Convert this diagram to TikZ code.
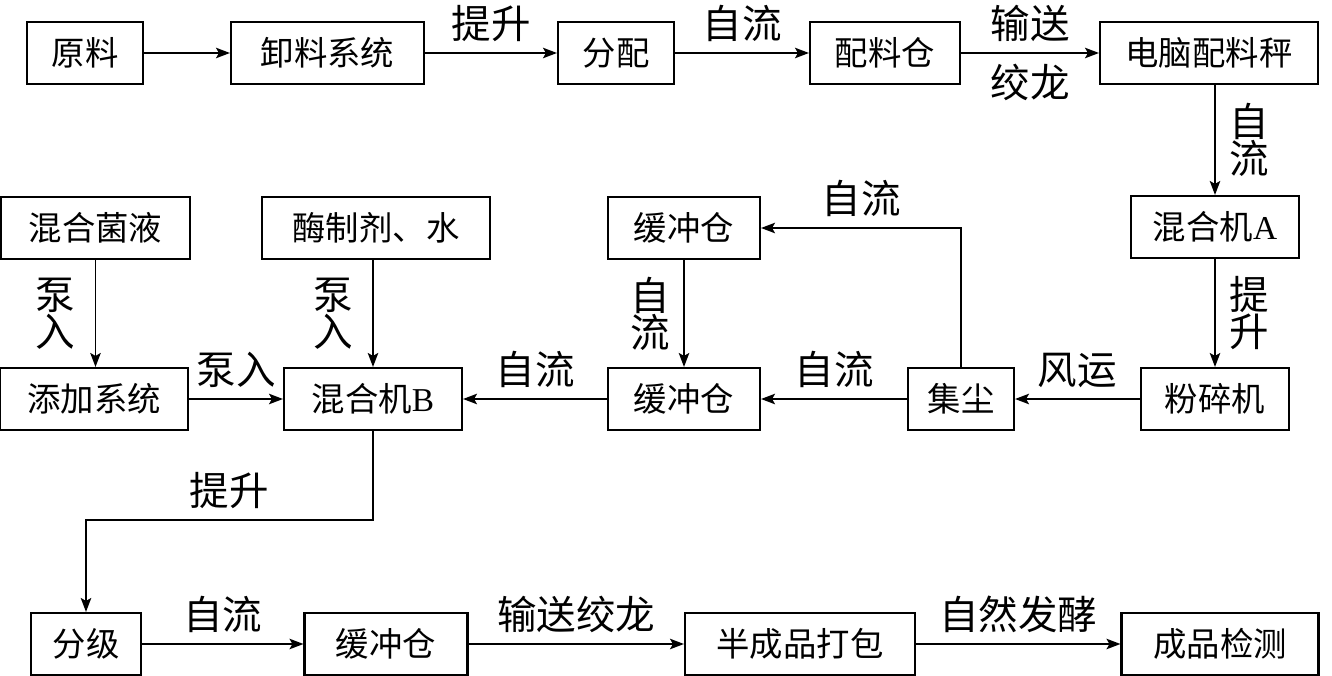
\documentclass[tikz,border=0pt]{standalone}
\usepackage{fontspec}
\setmainfont{Liberation Serif}
\newfontfamily\cjk{Noto Sans CJK SC}
\usetikzlibrary{arrows.meta, positioning}

\begin{document}
\begin{tikzpicture}[x=0.02cm, y=-0.02cm,
    stage/.style={rectangle, draw, line width=1.2pt, minimum height=1.24cm,
                  inner sep=0pt, font=\cjk\fontsize{19}{21}\selectfont},
    flow/.style={-{Stealth[length=2.8mm, width=2.1mm, inset=0.6mm]}, line width=1pt},
    tag/.style={font=\cjk\fontsize{22.5}{21}\selectfont, inner sep=0pt, align=center}]
    \useasboundingbox (0,0) rectangle (1332,676);

    % Top row
    \node[stage, minimum width=2.32cm] (raw) at (85,53) {原料};
    \node[stage, minimum width=3.86cm] (unload) at (327.5,53) {卸料系统};
    \node[stage, minimum width=2.32cm] (dist) at (616,53) {分配};
    \node[stage, minimum width=3cm] (batch) at (885,53) {配料仓};
    \node[stage, minimum width=4.36cm] (scale) at (1209,53) {电脑配料秤};

    % Feed boxes
    \node[stage, minimum width=3.78cm] (culture) at (95.5,228) {混合菌液};
    \node[stage, minimum width=4.56cm] (enzyme) at (376,228) {酶制剂、水};
    \node[stage, minimum width=3.04cm] (buf1) at (684,228) {缓冲仓};
    \node[stage, minimum width=3.36cm] (mixA) at (1215,227) {混合机{\rmfamily A}};

    % Mixing row
    \node[stage, minimum width=3.76cm] (add) at (94,399) {添加系统};
    \node[stage, minimum width=3.56cm] (mixB) at (373,399) {混合机{\rmfamily B}};
    \node[stage, minimum width=3.04cm] (buf2) at (684,399) {缓冲仓};
    \node[stage, minimum width=2.12cm] (dust) at (961,399) {集尘};
    \node[stage, minimum width=2.96cm] (mill) at (1215,399) {粉碎机};

    % Bottom row
    \node[stage, minimum width=2.2cm] (grade) at (86,644) {分级};
    \node[stage, minimum width=3.26cm] (buf3) at (386,644) {缓冲仓};
    \node[stage, minimum width=4.6cm] (pack) at (800,644) {半成品打包};
    \node[stage, minimum width=3.94cm] (check) at (1220,644) {成品检测};

    % Arrows, top row
    \draw[flow] (raw) -- (unload);
    \draw[flow] (unload) -- node[tag, midway, above=6pt] {提升} (dist);
    \draw[flow] (dist) -- node[tag, midway, above=6pt] {自流} (batch);
    \draw[flow] (batch) -- node[tag, midway, above=6pt] {输送}
                           node[tag, midway, below=6pt] {绞龙} (scale);
    \draw[flow] (scale.south -| mixA.north) -- node[tag, midway, right=7.5pt] {自\\流} (mixA.north);

    % Arrows, grinding and dust
    \draw[flow] (mixA) -- node[tag, midway, right=7.5pt] {提\\升} (mill);
    \draw[flow] (mill) -- node[tag, midway, above=6pt] {风运} (dust);
    \draw[flow] (dust) -- node[tag, midway, above=6pt] {自流} (buf2);
    \draw[flow] (dust.north) |- node[tag, pos=0.75, above=6pt] {自流} (buf1.east);
    \draw[flow] (buf1) -- node[tag, midway, left=7.5pt] {自\\流} (buf2);
    \draw[flow] (buf2) -- node[tag, midway, above=6pt] {自流} (mixB);

    % Arrows, feeds
    \draw[flow] (culture.south) -- node[tag, midway, left=11pt] {泵\\入} (culture.south |- add.north);
    \draw[flow] (enzyme.south -| mixB.north) -- node[tag, midway, left=11pt] {泵\\入} (mixB.north);
    \draw[flow] (add) -- node[tag, midway, above=6pt] {泵入} (mixB);

    % Arrows, bottom row
    \coordinate (liftturn) at (86,520);
    \draw[flow] (mixB.south) |- node[tag, pos=0.75, above=6pt] {提升} (liftturn) -- (grade.north);
    \draw[flow] (grade) -- node[tag, midway, above=6pt] {自流} (buf3);
    \draw[flow] (buf3) -- node[tag, midway, above=6pt] {输送绞龙} (pack);
    \draw[flow] (pack) -- node[tag, midway, above=6pt] {自然发酵} (check);
\end{tikzpicture}
\end{document}
